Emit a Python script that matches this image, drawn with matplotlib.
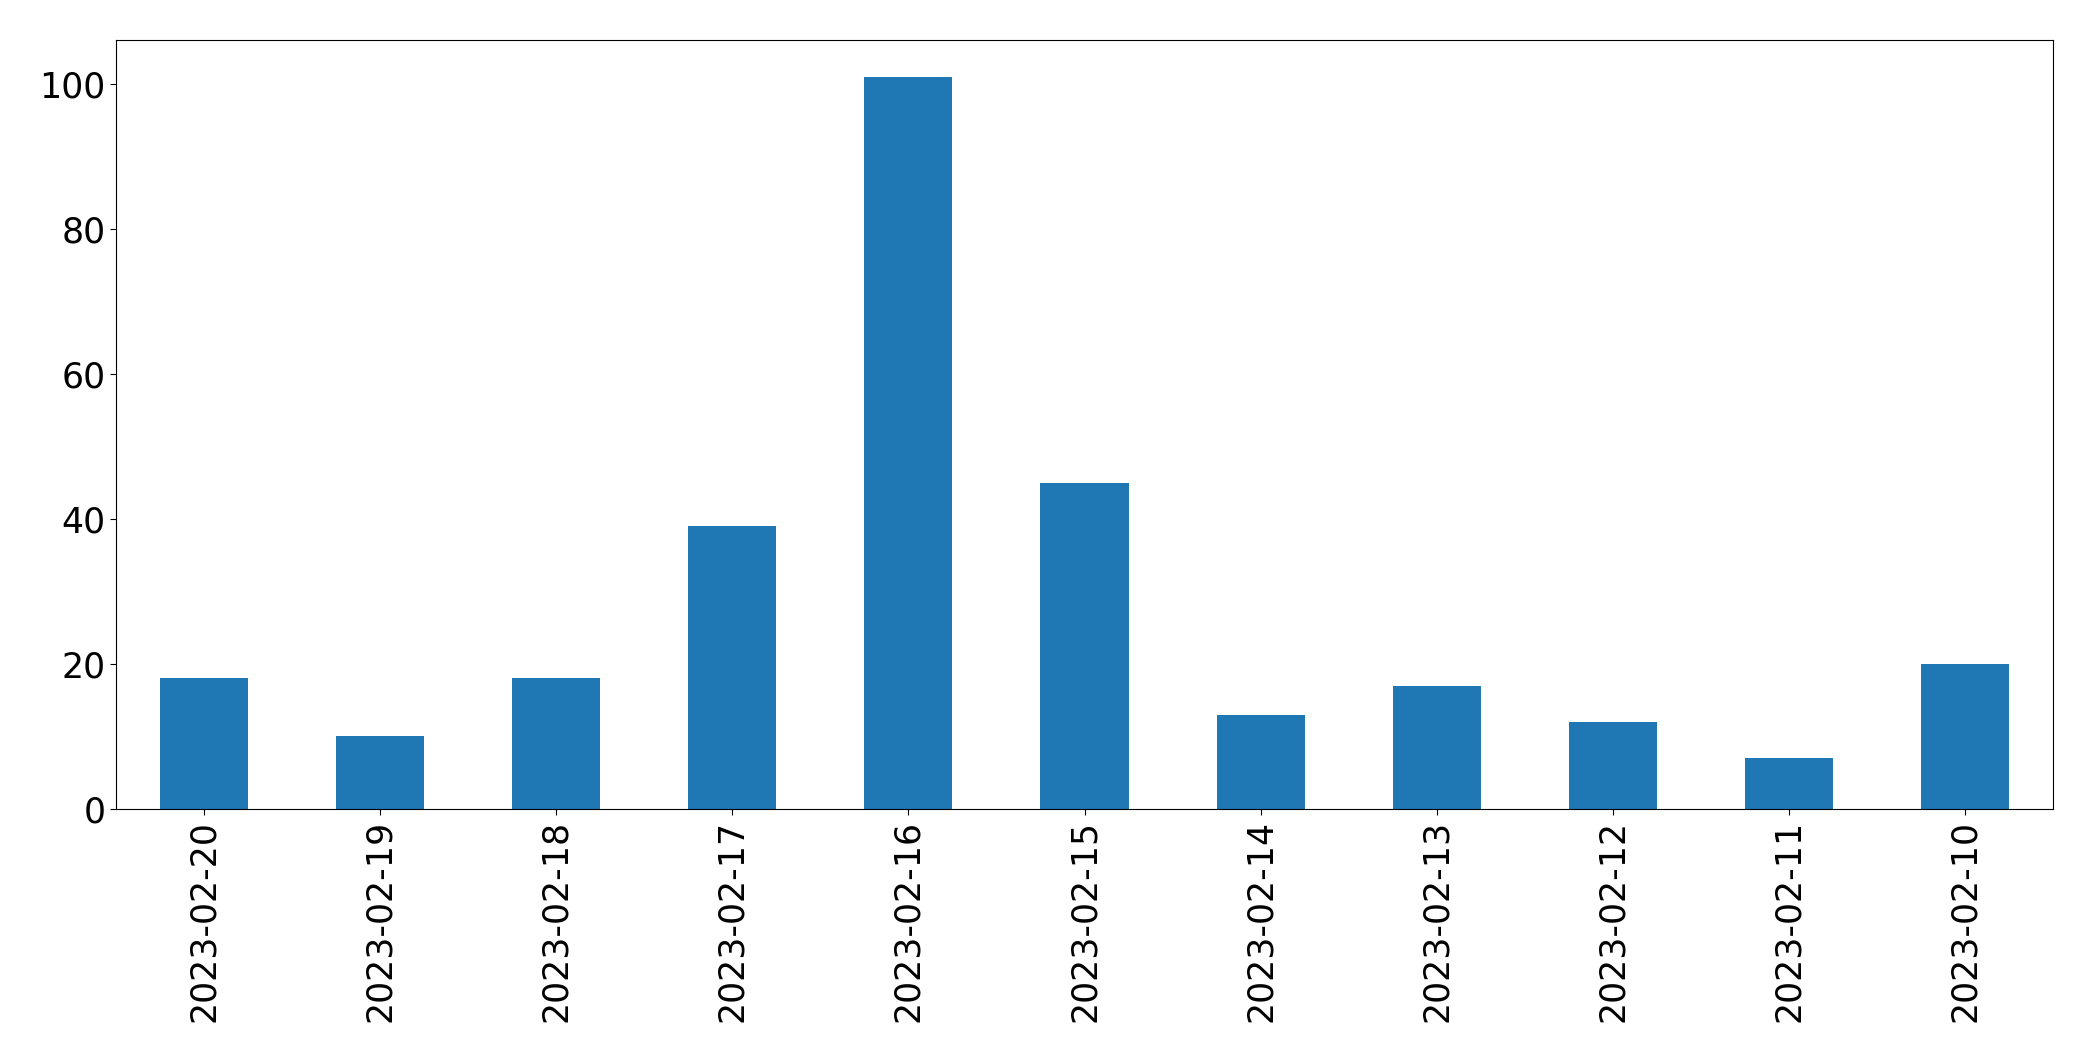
import matplotlib
matplotlib.use("Agg")
import matplotlib.pyplot as plt
import pandas as pd

# Daily counts, newest first
dates = ["2023-02-20", "2023-02-19", "2023-02-18", "2023-02-17", "2023-02-16",
         "2023-02-15", "2023-02-14", "2023-02-13", "2023-02-12", "2023-02-11",
         "2023-02-10"]
counts = [18, 10, 18, 39, 101, 45, 13, 17, 12, 7, 20]

series = pd.Series(counts, index=dates)

fig = plt.figure(figsize=(20.93, 10.61), dpi=100)
ax = fig.add_axes([116 / 2093, 1 - 809 / 1061, (2053 - 116) / 2093, (809 - 40) / 1061])
series.plot(kind="bar", ax=ax, color="#1f77b4", width=0.5)

ax.tick_params(axis="both", labelsize=25, length=4.2)
ax.set_yticks([0, 20, 40, 60, 80, 100])
for s in ax.spines.values():
    s.set_color("black")

fig.savefig("out.png", dpi=100)
